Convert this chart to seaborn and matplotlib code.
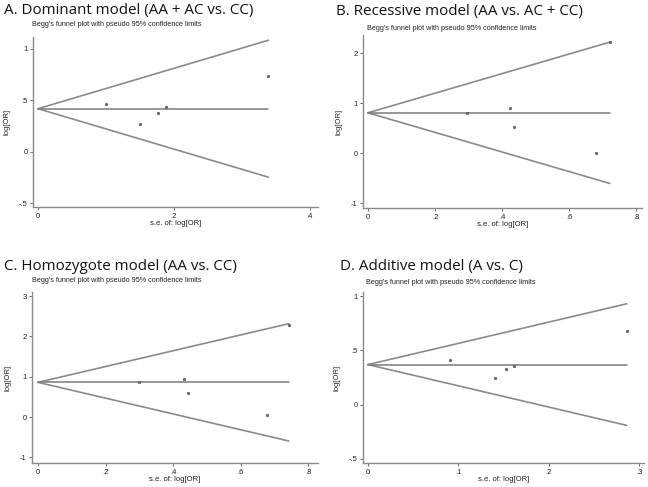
import numpy as np
import pandas as pd
import seaborn as sns
import matplotlib.pyplot as plt

# panel titles
titles = ['A. Dominant model (AA + AC vs. CC)',
          'B. Recessive model (AA vs. AC + CC)',
          'C. Homozygote model (AA vs. CC)',
          'D. Additive model (A vs. C)']
subtitle = "Begg's funnel plot with pseudo 95% confidence limits"

# study points: s.e. of log[OR] and log[OR]
se_a = [0.100, 0.150, 0.176, 0.188, 0.339]
lor_a = [0.463, 0.272, 0.382, 0.434, 0.738]
se_b = [0.296, 0.423, 0.435, 0.680, 0.721]
lor_b = [0.81, 0.906, 0.53, 0.013, 2.22]
se_c = [0.298, 0.431, 0.443, 0.679, 0.742]
lor_c = [0.86, 0.95, 0.60, 0.04, 2.29]
se_d = [0.0904, 0.1406, 0.1528, 0.1616, 0.286]
lor_d = [0.412, 0.246, 0.332, 0.357, 0.674]

# pooled log[OR]
pooled = [0.42, 0.81, 0.86, 0.369]

# ticks
xticks_list = [[0, 0.2, 0.4], [0, 0.2, 0.4, 0.6, 0.8], [0, 0.2, 0.4, 0.6, 0.8], [0, 0.1, 0.2, 0.3]]
xlabels_list = [['0', '.2', '.4'], ['0', '.2', '.4', '.6', '.8'], ['0', '.2', '.4', '.6', '.8'], ['0', '.1', '.2', '.3']]
yticks_list = [[-0.5, 0, 0.5, 1], [-1, 0, 1, 2], [-1, 0, 1, 2, 3], [-0.5, 0, 0.5, 1]]
ylabels_list = [['-.5', '0', '.5', '1'], ['-1', '0', '1', '2'], ['-1', '0', '1', '2', '3'], ['-.5', '0', '.5', '1']]

sns.set_style('white')
plt.rcParams['font.family'] = ['Liberation Sans', 'DejaVu Sans']

W, H = 648, 487
fig = plt.figure(figsize=(W / 100, H / 100), dpi=100)

# axes boxes in pixels: left, top, right, bottom
boxes = [(33, 37, 318, 207), (363, 35, 642, 208), (32, 292, 318, 463), (363, 292, 644, 463)]
xlims = [(-0.0074, 0.412), (-0.0149, 0.817), (-0.0177, 0.8285), (-0.0055, 0.305)]
ylims = [(-0.534, 1.116), (-1.094, 2.366), (-1.14, 3.10), (-0.538, 1.038)]
title_pos = [(4, 14), (336, 15), (4, 270), (340, 270)]
sub_pos = [(32, 25), (367, 28), (32, 281), (366, 283)]

data = [(se_a, lor_a), (se_b, lor_b), (se_c, lor_c), (se_d, lor_d)]
grey = '#8a8a8a'

for i in range(4):
    l, t, r, b = boxes[i]
    ax = fig.add_axes([l / W, 1 - b / H, (r - l) / W, (b - t) / H])
    se, lor = data[i]
    df = pd.DataFrame({'se': se, 'lor': lor})
    p = pooled[i]
    smax = max(se)
    xs = np.array([0, smax])
    ax.plot(xs, p + 1.96 * xs, color=grey, lw=1.2)
    ax.plot(xs, p - 1.96 * xs, color=grey, lw=1.2)
    ax.plot(xs, [p, p], color='#7a7a7a', lw=1.1)
    sns.scatterplot(data=df, x='se', y='lor', ax=ax, s=4, color='#666666',
                    edgecolor='#555555', linewidth=0.3, zorder=3)
    ax.set_xlim(*xlims[i])
    ax.set_ylim(*ylims[i])
    ax.set_xticks(xticks_list[i])
    ax.set_xticklabels(xlabels_list[i])
    ax.set_yticks(yticks_list[i])
    ax.set_yticklabels(ylabels_list[i])
    ax.tick_params(axis='both', labelsize=5.5, length=2.5, width=0.6, color='#555555',
                   pad=1.5, labelcolor='#222222', direction='out', bottom=True, left=True)
    ax.set_xlabel('s.e. of: log[OR]', fontsize=5.5, labelpad=0, color='#222222')
    ax.set_ylabel('log[OR]', fontsize=5.5, labelpad=6, color='#222222')
    for side in ['top', 'right']:
        ax.spines[side].set_visible(False)
    for side in ['left', 'bottom']:
        ax.spines[side].set_color(grey)
        ax.spines[side].set_linewidth(1.0)
    sx, sy = sub_pos[i]
    fig.text(sx / W, 1 - sy / H, subtitle, fontsize=5.2, color='#222222',
             ha='left', va='center')
    tx, ty = title_pos[i]
    fig.text(tx / W, 1 - ty / H, titles[i], fontsize=10.9, family=['Open Sans', 'DejaVu Sans'],
             color='#111111', ha='left', va='baseline')

fig.savefig('out.png', dpi=100, facecolor='white')
